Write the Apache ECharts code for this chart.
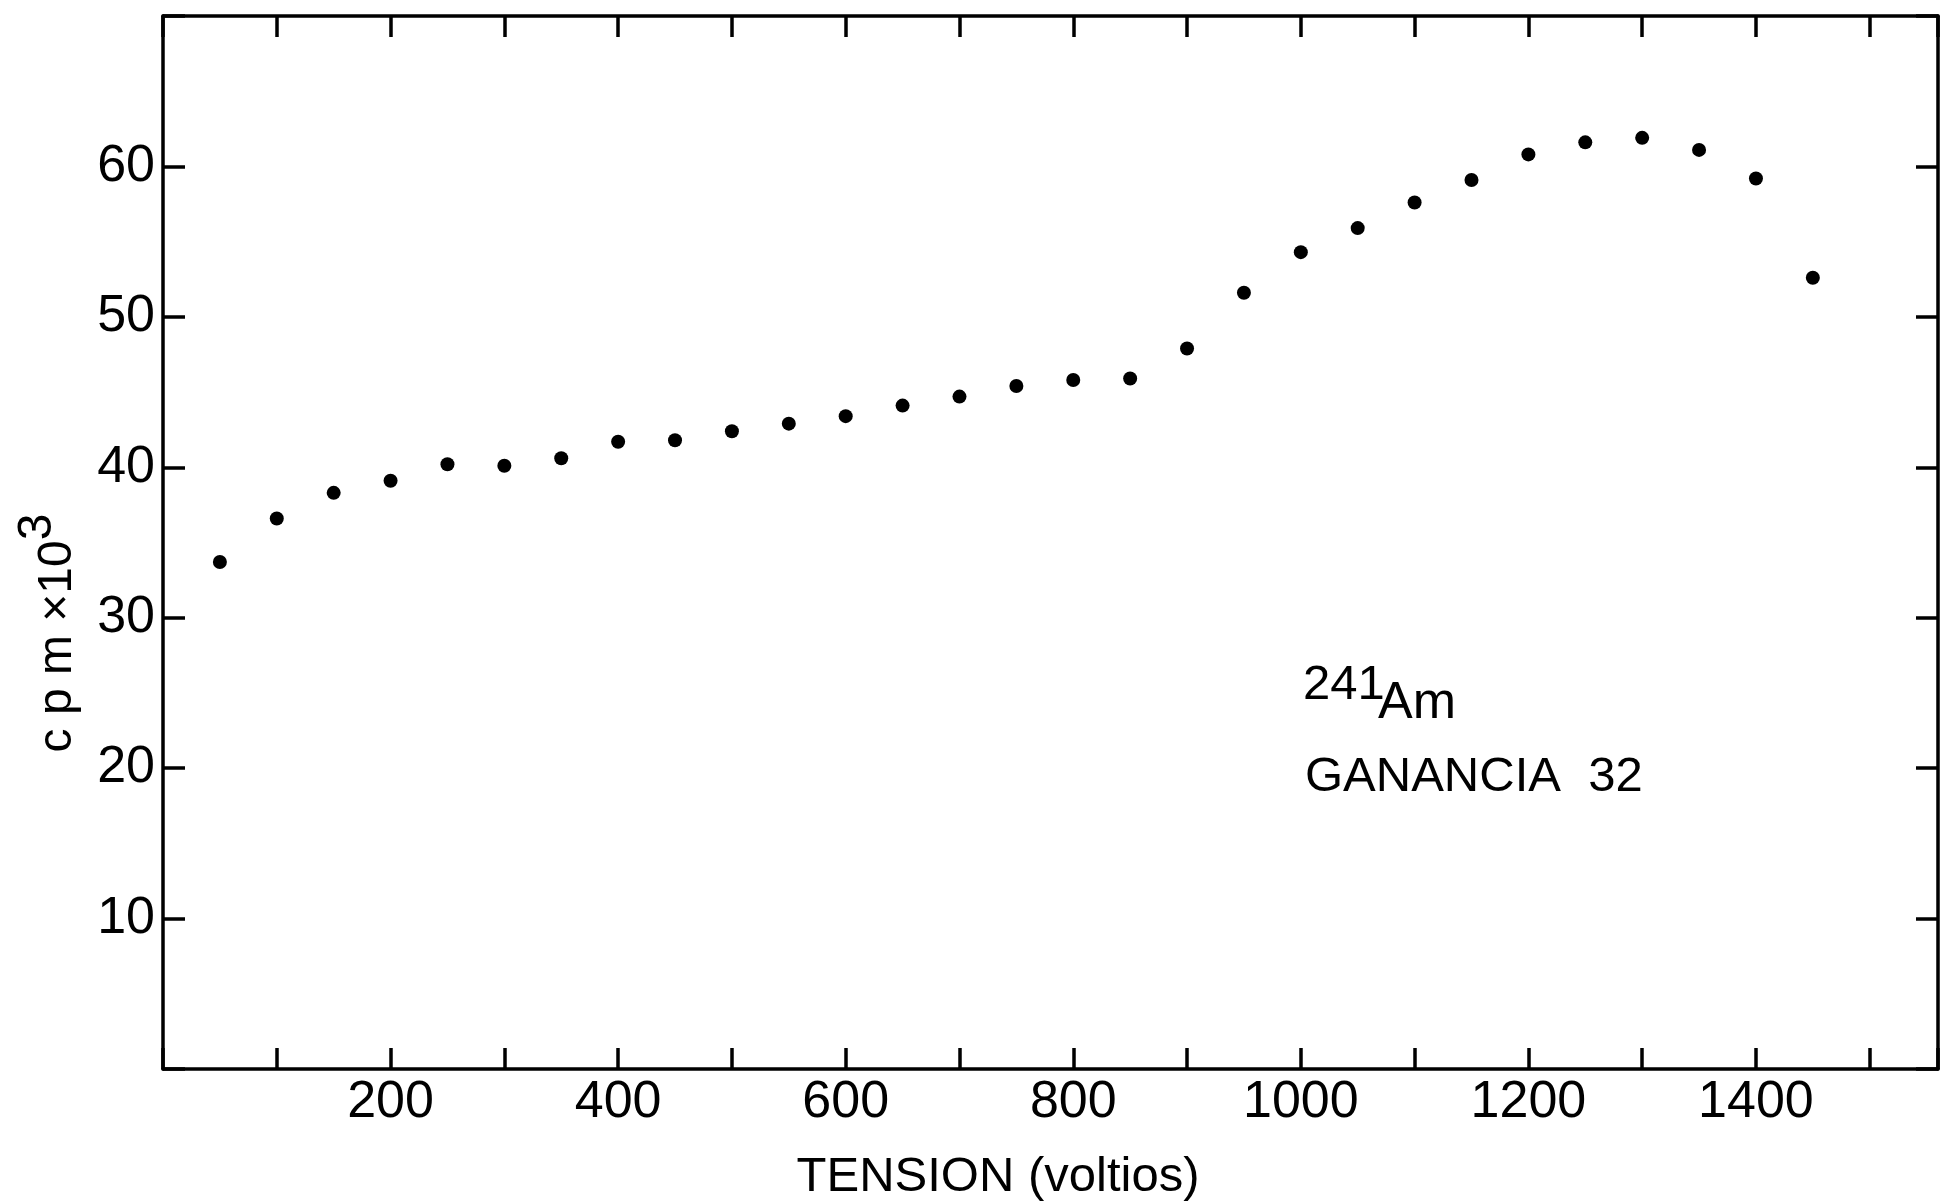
<!DOCTYPE html>
<html>
<head>
<meta charset="utf-8">
<script src="https://cdn.jsdelivr.net/npm/echarts@6/dist/echarts.min.js"></script>
<style>
html,body{margin:0;padding:0;background:#fff;}
#chart{width:1942px;height:1202px;}
</style>
</head>
<body>
<div id="chart"></div>
<script>
// ---- data ----
const voltage = [50, 100, 150, 200, 250, 300, 350, 400, 450, 500, 550, 600, 650, 700, 750,
                 800, 850, 900, 950, 1000, 1050, 1100, 1150, 1200, 1250, 1300, 1350, 1400, 1450];
const counts = [33.7, 36.6, 38.3, 39.1, 40.2, 40.1, 40.6, 41.7, 41.8, 42.4, 42.9, 43.4, 44.1, 44.7, 45.4,
                45.8, 45.9, 47.9, 51.6, 54.3, 55.9, 57.6, 59.1, 60.8, 61.6, 61.9, 61.1, 59.2, 52.6];
const xTickLabels = [200, 400, 600, 800, 1000, 1200, 1400];
const yTickLabels = [10, 20, 30, 40, 50, 60];
const xTitle = 'TENSION (voltios)';
const yTitleMain = 'c p m \u00d710';
const yTitleSup = '3';
const isotopeMass = '241';
const isotopeSymbol = 'Am';
const gainText = 'GANANCIA  32';

const FONT = "'Liberation Sans', Arial, sans-serif";
const INK = '#000';

const chart = echarts.init(document.getElementById('chart'), null, {renderer: 'canvas'});

function xAxisCfg(pos, showLabels) {
  return {
    type: 'value', position: pos, min: 0, max: 1560, interval: 100,
    axisLine: {show: true, onZero: false, lineStyle: {color: INK, width: 3.5, opacity: 1}},
    axisTick: {show: true, inside: true, length: 21, lineStyle: {color: INK, width: 3.5, opacity: 1}},
    axisLabel: {
      show: showLabels, margin: 8, fontSize: 52, fontFamily: FONT, color: INK,
      formatter: v => xTickLabels.includes(v) ? String(v) : ''
    },
    splitLine: {show: false}
  };
}
function yAxisCfg(pos, showLabels) {
  return {
    type: 'value', position: pos, min: 0, max: 70, interval: 10,
    axisLine: {show: true, onZero: false, lineStyle: {color: INK, width: 3.5, opacity: 1}},
    axisTick: {show: true, inside: true, length: 22, lineStyle: {color: INK, width: 3.5, opacity: 1}},
    axisLabel: {
      show: showLabels, margin: 8, fontSize: 52, fontFamily: FONT, color: INK,
      formatter: v => yTickLabels.includes(v) ? String(v) : ''
    },
    splitLine: {show: false}
  };
}

chart.setOption({
  animation: false,
  backgroundColor: '#fff',
  grid: {left: 163, right: 4, top: 16, bottom: 133, containLabel: false, outerBoundsMode: 'none'},
  xAxis: [xAxisCfg('bottom', true), xAxisCfg('top', false)],
  yAxis: [yAxisCfg('left', true), yAxisCfg('right', false)],
  series: [{
    type: 'scatter',
    xAxisIndex: 0, yAxisIndex: 0,
    symbol: 'circle', symbolSize: 14,
    itemStyle: {color: INK, opacity: 1},
    emphasis: {disabled: true},
    data: voltage.map((v, i) => [v, counts[i]])
  }],
  graphic: [
    {type: 'text', x: 998, y: 1177,
     style: {text: xTitle, fontSize: 49, fontFamily: FONT, fill: INK, align: 'center', verticalAlign: 'middle'}},
    {type: 'text', x: 82, y: 633, rotation: Math.PI / 2,
     style: {
       text: '{n|' + yTitleMain + '}{s|' + yTitleSup + '}',
       align: 'center', verticalAlign: 'bottom',
       rich: {
         n: {fontSize: 48, lineHeight: 48, fontFamily: FONT, fill: INK, verticalAlign: 'bottom'},
         s: {fontSize: 48, lineHeight: 48, fontFamily: FONT, fill: INK, verticalAlign: 'bottom', padding: [0, 0, 20, 0]}
       }
     }},
    {type: 'text', x: 1303, y: 685,
     style: {text: isotopeMass, fontSize: 49, fontFamily: FONT, fill: INK, align: 'left', verticalAlign: 'middle'}},
    {type: 'text', x: 1378, y: 704,
     style: {text: isotopeSymbol, fontSize: 52, fontFamily: FONT, fill: INK, align: 'left', verticalAlign: 'middle'}},
    {type: 'text', x: 1305, y: 777,
     style: {text: gainText, fontSize: 49, fontFamily: FONT, fill: INK, align: 'left', verticalAlign: 'middle'}}
  ]
});
</script>
</body>
</html>
